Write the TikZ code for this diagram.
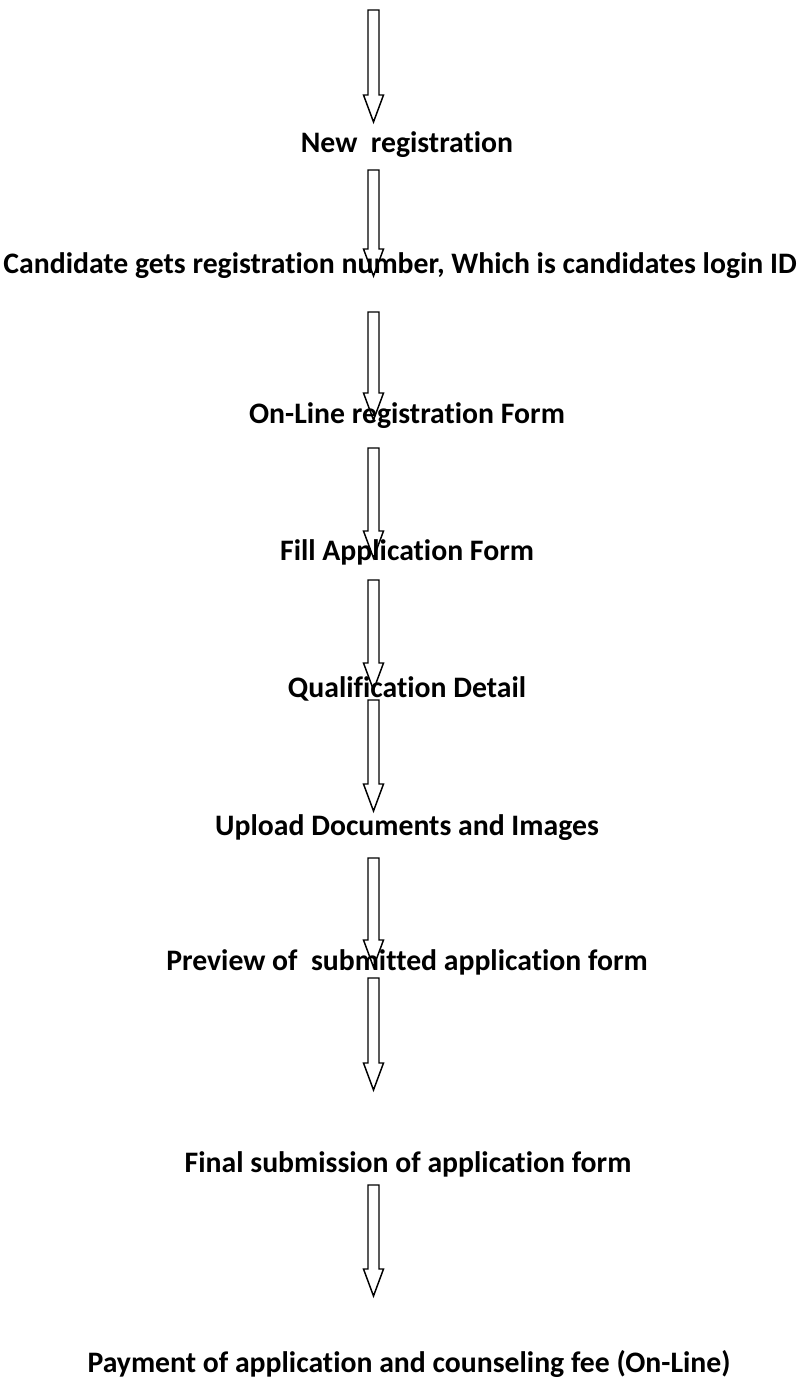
\documentclass[tikz,border=0pt]{standalone}
\usepackage{fontspec}
\setmainfont{Carlito}[Ligatures={NoCommon}]
\usetikzlibrary{calc}
\tikzset{
  steptext/.style={anchor=base, inner sep=0pt, font=\fontsize{22.3}{26}\selectfont\bfseries, text=black},
  blockarr/.style={draw=black, line width=1.1pt, line join=miter}
}
\newcommand\flowarrow[2]{%
  \draw[blockarr] ($(#1)+(-5.5,0)$) -- ($(#2)+(-5.5,-27)$) -- ($(#2)+(-10,-27)$) -- (#2)
    -- ($(#2)+(10,-27)$) -- ($(#2)+(5.5,-27)$) -- ($(#1)+(5.5,0)$) -- cycle;}
\begin{document}
\begin{tikzpicture}[x=0.75pt,y=-0.75pt]
\useasboundingbox (0,0) rectangle (803,1380);
% texts
\node[steptext] (t1) at (407,153) {New\ \ registration};
\node[steptext] (t2) at (400,273) {Candidate gets registration number, Which is candidates login ID};
\node[steptext] (t3) at (407,423) {On-Line registration Form};
\node[steptext] (t4) at (407,560) {Fill Application Form};
\node[steptext] (t5) at (407,697) {Qualification Detail};
\node[steptext] (t6) at (407,835) {Upload Documents and Images};
\node[steptext] (t7) at (407,970) {Preview of\ \ submitted application form};
\node[steptext] (t8) at (408,1172) {Final submission of application form};
\node[steptext] (t9) at (409,1372) {Payment of application and counseling fee (On-Line)};
% arrow ends
\coordinate (s1) at (373.5,10);   \coordinate (e1) at (373.5,122);
\coordinate (s2) at (373.5,170);  \coordinate (e2) at (373.5,276);
\coordinate (s3) at (373.5,312);  \coordinate (e3) at (373.5,420);
\coordinate (s4) at (373.5,448);  \coordinate (e4) at (373.5,558);
\coordinate (s5) at (373.5,580);  \coordinate (e5) at (373.5,690);
\coordinate (s6) at (373.5,700);  \coordinate (e6) at (373.5,811);
\coordinate (s7) at (373.5,858);  \coordinate (e7) at (373.5,967);
\coordinate (s8) at (373.5,978);  \coordinate (e8) at (373.5,1090);
\coordinate (s9) at (373.5,1185); \coordinate (e9) at (373.5,1296);
\flowarrow{s1}{e1}
\flowarrow{s2}{e2}
\flowarrow{s3}{e3}
\flowarrow{s4}{e4}
\flowarrow{s5}{e5}
\flowarrow{s6}{e6}
\flowarrow{s7}{e7}
\flowarrow{s8}{e8}
\flowarrow{s9}{e9}
\end{tikzpicture}
\end{document}
